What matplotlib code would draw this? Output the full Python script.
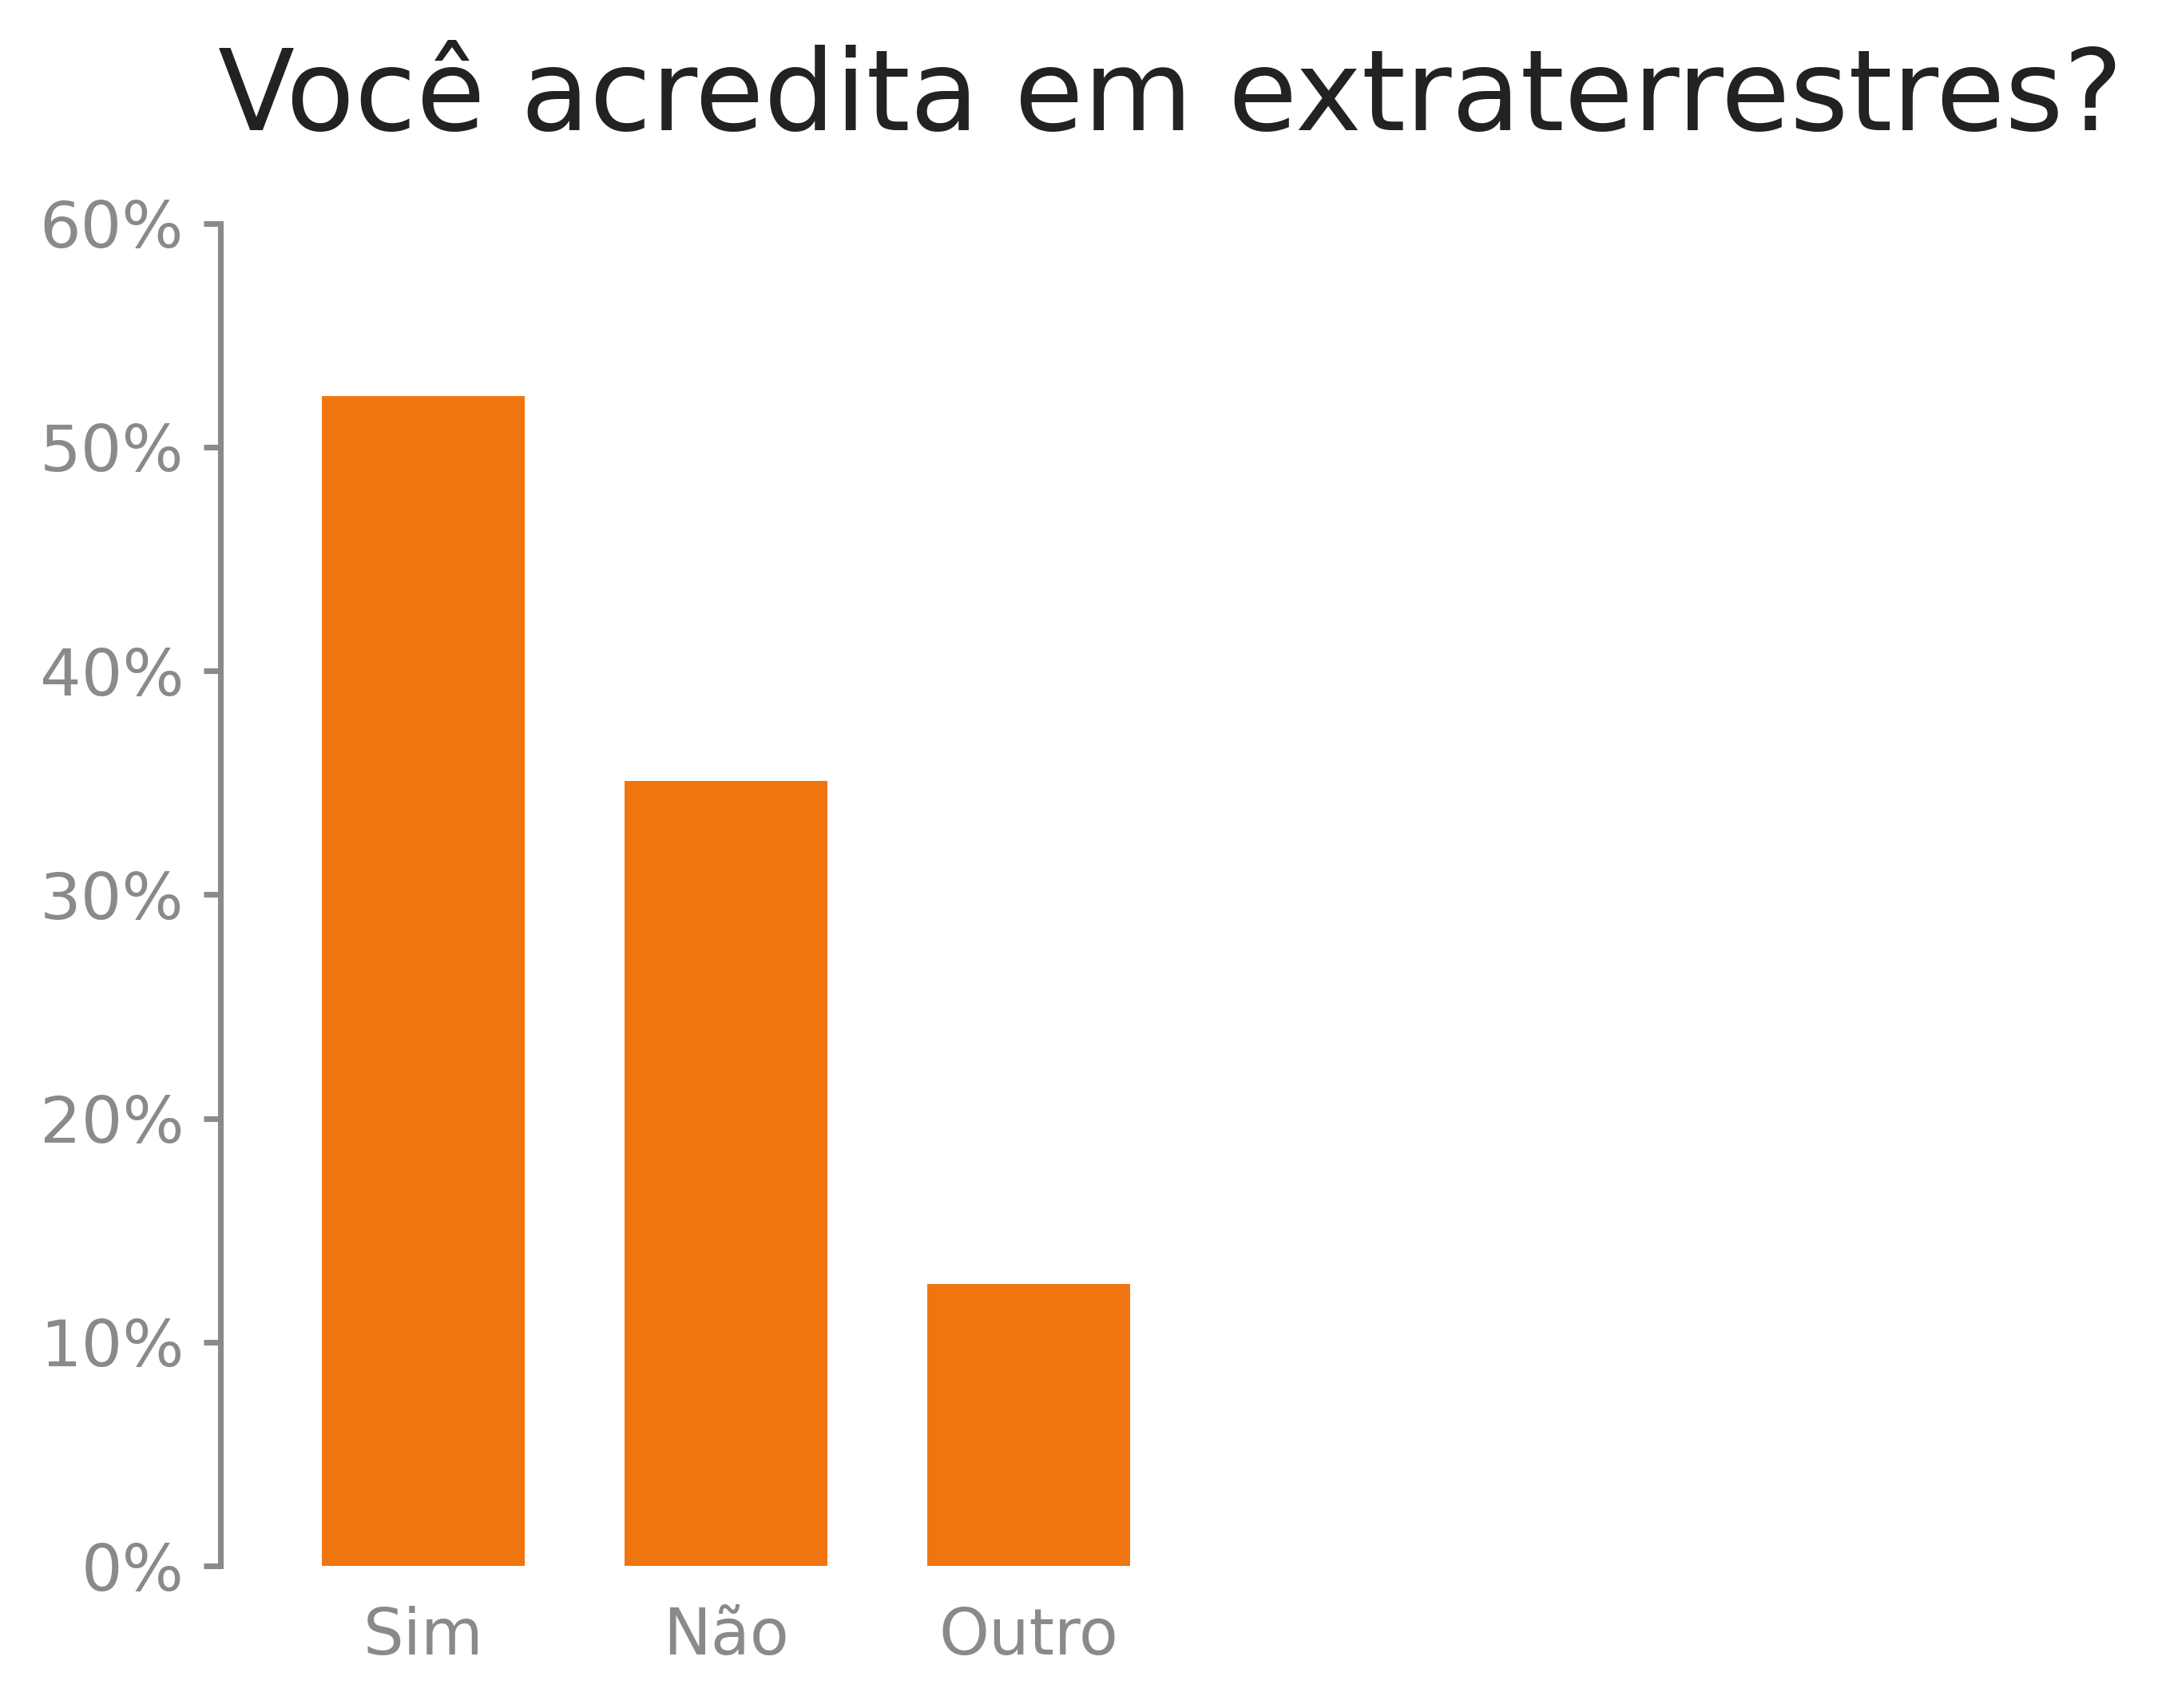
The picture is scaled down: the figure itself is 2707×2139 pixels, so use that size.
import matplotlib
matplotlib.use("Agg")
import matplotlib.pyplot as plt
from matplotlib.ticker import PercentFormatter

# Survey answers (share of respondents)
categories = ["Sim", "Não", "Outro"]
shares = [0.523, 0.351, 0.126]
yticks = [0.0, 0.1, 0.2, 0.3, 0.4, 0.5, 0.6]

BAR = "#F1750F"
GREY = "#8A8A8A"

fig = plt.figure(figsize=(2707 / 300, 2139 / 300), dpi=300)
ax = fig.add_axes([0.102, 0.0832, 0.879, 0.786])

x = range(len(categories))
ax.bar(x, shares, width=0.67, color=BAR)

ax.set_xlim(-0.67, 5.61)
ax.set_ylim(0, 0.6)
ax.set_yticks(yticks)
ax.yaxis.set_major_formatter(PercentFormatter(1.0, decimals=0))
ax.set_xticks(list(x))
ax.set_xticklabels(categories)

for s in ["top", "right", "bottom"]:
    ax.spines[s].set_visible(False)
ax.spines["left"].set_color(GREY)
ax.spines["left"].set_linewidth(1.7)

ax.tick_params(axis="y", colors=GREY, labelsize=19.5, length=5, width=1.7, pad=6)
ax.tick_params(axis="x", colors=GREY, labelsize=19.2, length=0, pad=12)

ax.set_title("Você acredita em extraterrestres?", fontsize=33.7, color="#222222", pad=28)

fig.savefig("out.png", dpi=300)
